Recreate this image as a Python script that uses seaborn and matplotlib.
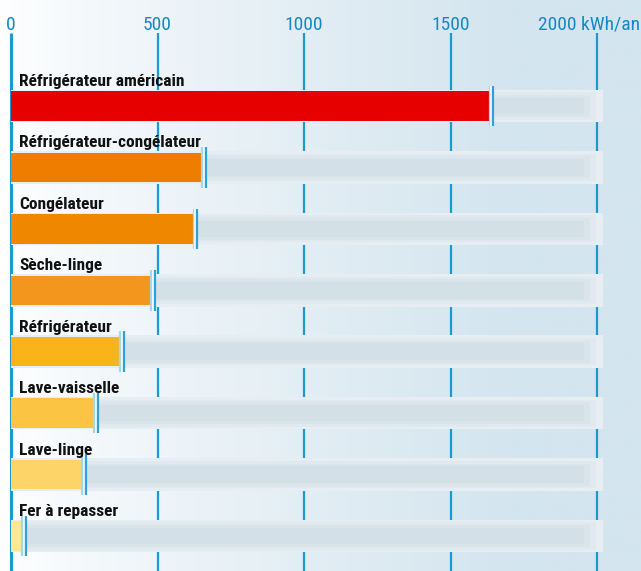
import numpy as np
import pandas as pd
import matplotlib
matplotlib.use("Agg")
import matplotlib.pyplot as plt
from matplotlib import font_manager as fm
import seaborn as sns

categories = ["Réfrigérateur américain", "Réfrigérateur-congélateur", "Congélateur",
              "Sèche-linge", "Réfrigérateur", "Lave-vaisselle", "Lave-linge", "Fer à repasser"]
values = [1630, 650, 620, 475, 370, 280, 240, 35]
bar_colors = ["#E60000", "#EE7D00", "#F08700", "#F2961E", "#F8B418", "#FBC442", "#FDD468", "#FFE794"]
track_max = [2020] * len(categories)
ticks = [0, 500, 1000, 1500, 2000]
tick_labels = ["0", "500", "1000", "1500", "2000"]
unit_label = "kWh/an"

sns.set_theme(style="white")
plt.rcParams['font.family'] = ['DejaVu Sans']


def find_narrow(bold):
    prefs = ["Liberation Sans Narrow", "Roboto Condensed", "Noto Sans Condensed",
             "Open Sans Condensed", "DejaVu Sans Condensed", "Noto Sans"]
    cands = []
    for f in fm.fontManager.ttflist:
        nm = f.name + " " + f.fname
        if ("Narrow" in nm or "Condensed" in nm or "condensed" in str(f.stretch)) and "Extra" not in nm and "Semi" not in nm:
            w = f.weight if isinstance(f.weight, int) else (700 if "bold" in str(f.weight) else 400)
            isbold = w >= 600
            if isbold == bold and f.style == "normal" and (bold or w >= 400):
                rank = len(prefs)
                for k, p in enumerate(prefs):
                    if f.name.startswith(p):
                        rank = k
                        break
                cands.append((rank, abs(w - (700 if bold else 400)), f.fname))
    if cands:
        cands.sort()
        return fm.FontProperties(fname=cands[0][2]), True
    return None, False


fp_bold, ok_b = find_narrow(True)
fp_reg, ok_r = find_narrow(False)
if not ok_b:
    fp_bold = fm.FontProperties(family="DejaVu Sans", weight="bold")
if not ok_r:
    fp_reg = fm.FontProperties(family="DejaVu Sans")

W, H = 641, 571
fig = plt.figure(figsize=(W / 100, H / 100), dpi=100)
ax = fig.add_axes([0, 0, 1, 1])

px_per_unit = 586 / 2000
x0_px = 11
xmin = -x0_px / px_per_unit
xmax = (W - x0_px) / px_per_unit
row_px = 61.43
first_px = 106
ytop = -first_px / row_px
ybot = (H - first_px) / row_px

# background gradient
grad = np.linspace(0, 1, 256)
c0 = np.array([1.0, 1.0, 1.0])
c1 = np.array([0xD4, 0xE5, 0xEF]) / 255
g = np.clip(grad * 1.25, 0, 1) ** 0.8
img = (c0[None, :] * (1 - g[:, None]) + c1[None, :] * g[:, None])[None, :, :]
ax.imshow(img, extent=[xmin, xmax, ybot, ytop], aspect="auto", zorder=0)

df = pd.DataFrame({"cat": categories, "val": values, "track": track_max})

# gridlines
ytick_top = (33 - first_px) / row_px
for t in ticks:
    ax.plot([t, t], [ytick_top, ybot], color="#1B9AD2", lw=1.6 if t else 2.2,
            zorder=0.5, solid_capstyle="butt")

# tracks (soft layered)
layers = [(0.53, 0, "#E7EEF3"), (0.44, 25, "#E0E9EF"), (0.36, 45, "#DAE5EB"), (0.27, 65, "#D4E0E8")]
for wdt, cut, col in layers:
    sns.barplot(data=df, y="cat", x=[t - cut for t in track_max], orient="h", color=col,
                width=wdt, ax=ax, saturation=1)
# value bars
sns.barplot(data=df, y="cat", x="val", orient="h", hue="cat", palette=bar_colors,
            legend=False, width=0.48, ax=ax, saturation=1)
for p in ax.patches:
    p.set_zorder(2)
    p.set_linewidth(0)

# end markers
u = 1 / px_per_unit
for i, v in enumerate(values):
    y0, y1 = i - 0.33, i + 0.33
    ax.vlines(v + 1.0 * u, y0, y1, color="#A6D6EE", lw=1.6, zorder=4)
    ax.vlines(v + 2.8 * u, y0, y1, color="#F2FAFE", lw=1.4, zorder=4)
    ax.vlines(v + 4.8 * u, y0, y1, color="#2EA2D8", lw=1.6, zorder=4)

# labels
lab_size = 12.5 if ok_b else 10.5
for i, c in enumerate(categories):
    ax.text(8 * u, i - 20.0 / row_px, c, fontproperties=fp_bold, fontsize=lab_size,
            color="#111111", ha="left", va="baseline", zorder=5)

# tick labels on top
tick_size = 14 if ok_r else 11
ylab = (30 - first_px) / row_px
for t, lab in zip(ticks[:-1], tick_labels[:-1]):
    ax.text(t, ylab, lab, fontproperties=fp_reg, fontsize=tick_size, color="#1589C4",
            ha="center", va="baseline", zorder=5)
ax.text(xmax - 1 * u, ylab, tick_labels[-1] + " " + unit_label, fontproperties=fp_reg,
        fontsize=tick_size, color="#1589C4", ha="right", va="baseline", zorder=5)

ax.set_xlim(xmin, xmax)
ax.set_ylim(ybot, ytop)
ax.axis("off")
fig.savefig("out.png", dpi=100)
